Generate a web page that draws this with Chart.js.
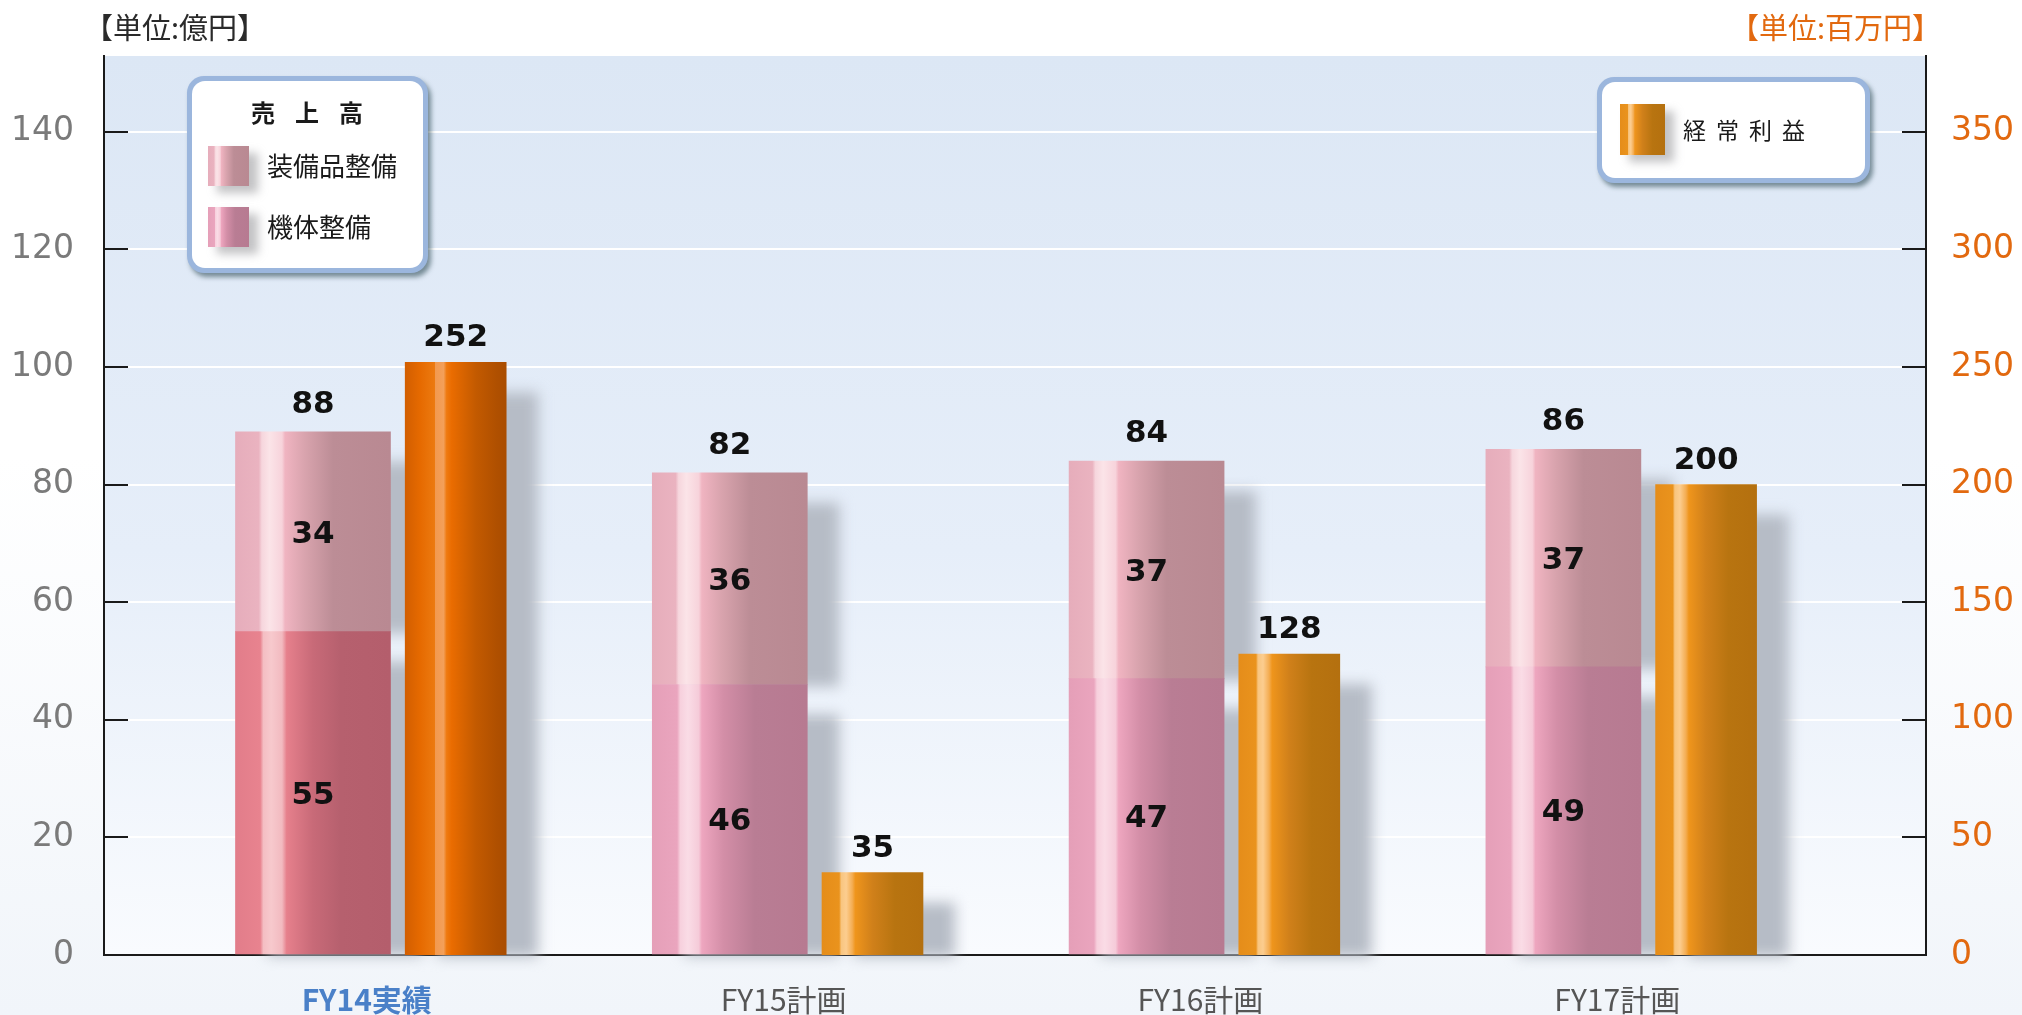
<!DOCTYPE html>
<html>
<head>
<meta charset="utf-8">
<script src="https://cdn.jsdelivr.net/npm/chart.js@4.4.1/dist/chart.umd.min.js"></script>
<style>
  html, body { margin: 0; padding: 0; background: #fff; }
  #wrap { width: 2022px; height: 1015px; position: relative; }
</style>
</head>
<body>
<div id="wrap"><canvas id="chart"></canvas></div>
<script>
// 売上高 (億円) / 経常利益 (百万円)
var categories    = ['FY14実績', 'FY15計画', 'FY16計画', 'FY17計画'];
var kitaiSeibi    = [55, 46, 47, 49];     // 機体整備
var soubihinSeibi = [34, 36, 37, 37];     // 装備品整備
var salesTotal    = [88, 82, 84, 86];     // 売上高 (label above stack)
var keijoRieki    = [252, 35, 128, 200];  // 経常利益

var CJK = '"Noto Sans CJK JP", sans-serif';
var NUM = '"DejaVu Sans", sans-serif';

/* cylinder-like gradients, stops as fraction of bar width */
var UPPER = [[0,'#e6adbb'],[0.15,'#eab3c0'],[0.17,'#f6d6dd'],[0.22,'#fbe4e8'],[0.30,'#f7d3db'],[0.32,'#f0b4c1'],[0.45,'#d8a3ad'],[0.63,'#bc8d96'],[1,'#b98992']];
var LOWER = [[0,'#e59fb8'],[0.16,'#eaa5be'],[0.18,'#f7d0dd'],[0.23,'#fadce6'],[0.30,'#f5cbd9'],[0.32,'#eea6bf'],[0.46,'#d38ea7'],[0.66,'#b97d94'],[1,'#b77a91']];
var LOWER14 = [[0,'#e27d8a'],[0.16,'#e8838f'],[0.18,'#f4bec3'],[0.23,'#f7c9cd'],[0.30,'#f2bac0'],[0.33,'#e6808c'],[0.50,'#c86a78'],[0.68,'#b6606e'],[1,'#b45e6c']];
var ORANGE = [[0,'#e58d1a'],[0.17,'#ea931d'],[0.19,'#f8c57f'],[0.24,'#fccd8f'],[0.30,'#f4ad52'],[0.33,'#ef951c'],[0.50,'#d0801a'],[0.72,'#b87410'],[1,'#b4700f']];
var ORANGE14 = [[0,'#d25e00'],[0.15,'#e66a00'],[0.29,'#ec7a10'],[0.30,'#f29a50'],[0.38,'#f3a05a'],[0.41,'#ef7a10'],[0.46,'#ea6c00'],[0.70,'#c35a00'],[0.90,'#b05000'],[1,'#aa4d00']];

var GROUP_OFFSET = 0.1712;   // half distance between sales bar and profit bar (x units)
var LABEL_SHIFT = -0.042;
var X_MIN = -0.6726, X_MAX = 3.6988;
var SALES_W = 155, PROFIT_W = 101;

function hGrad(c, left, width, stops) {
  var g = c.createLinearGradient(left, 0, left + width, 0);
  stops.forEach(function (s) { g.addColorStop(s[0], s[1]); });
  return g;
}

function barFill(pick, thickness) {
  return function (ctx) {
    var chart = ctx.chart;
    var xs = chart.scales && chart.scales.x;
    if (!xs || !ctx.parsed || !chart.chartArea) return '#d0a0b0';
    var cx = xs.getPixelForValue(ctx.parsed.x);
    return hGrad(chart.ctx, cx - thickness / 2, thickness, pick(ctx.dataIndex));
  };
}

var backdrop = {
  id: 'backdrop',
  beforeDraw: function (chart) {
    var c = chart.ctx, a = chart.chartArea;
    c.save();
    var g = c.createLinearGradient(0, 0, 0, chart.height);
    g.addColorStop(0, '#ffffff'); g.addColorStop(0.45, '#ffffff'); g.addColorStop(1, '#f1f5fa');
    c.fillStyle = g;
    c.fillRect(0, 0, chart.width, chart.height);
    g = c.createLinearGradient(0, a.top, 0, a.bottom);
    g.addColorStop(0, '#dce7f5'); g.addColorStop(0.55, '#e6eef9'); g.addColorStop(1, '#f9fbfe');
    c.fillStyle = g;
    c.fillRect(a.left, a.top, a.right - a.left, a.bottom - a.top);
    c.restore();
  }
};

var barShadow = {
  id: 'barShadow',
  beforeDatasetsDraw: function (chart) {
    var c = chart.ctx;
    c.save();
    c.filter = 'blur(7px)';
    c.fillStyle = '#b6bcc6';
    c.beginPath();
    chart.data.datasets.forEach(function (ds, di) {
      chart.getDatasetMeta(di).data.forEach(function (bar) {
        var top = Math.min(bar.y, bar.base), bottom = Math.max(bar.y, bar.base);
        c.rect(bar.x - bar.width / 2 + 32, top + 30, bar.width, bottom - top - 28);
      });
    });
    c.fill();
    c.restore();
  }
};

var valueLabels = {
  id: 'valueLabels',
  afterDatasetsDraw: function (chart) {
    var c = chart.ctx;
    var lower = chart.getDatasetMeta(0).data;
    var upper = chart.getDatasetMeta(1).data;
    var profit = chart.getDatasetMeta(2).data;
    c.save();
    c.fillStyle = '#111';
    c.font = 'bold 31px ' + NUM;
    c.textAlign = 'center';
    c.textBaseline = 'alphabetic';
    var half = 11;
    lower.forEach(function (b, i) {
      c.fillText(kitaiSeibi[i], b.x, (b.y + b.base) / 2 + half);
      var u = upper[i];
      c.fillText(soubihinSeibi[i], u.x, (u.y + u.base) / 2 + half);
      c.fillText(salesTotal[i], u.x, u.y - 30 + half);
    });
    profit.forEach(function (b, i) {
      c.fillText(keijoRieki[i], b.x, b.y - 27 + half);
    });
    c.restore();
  }
};

function legendBox(c, x, y, w, h) {
  c.save();
  c.shadowColor = 'rgba(30,60,70,0.55)';
  c.shadowOffsetX = 3; c.shadowOffsetY = 4; c.shadowBlur = 5;
  c.beginPath(); c.roundRect(x, y, w, h, 17);
  c.fillStyle = '#9bb6dd'; c.fill();
  c.restore();
  c.beginPath(); c.roundRect(x + 5, y + 5, w - 10, h - 10, 13);
  c.fillStyle = '#ffffff'; c.fill();
}

function swatch(c, x, y, w, h, stops) {
  c.save();
  c.filter = 'blur(5px)';
  c.fillStyle = 'rgba(120,120,125,0.45)';
  c.fillRect(x + 9, y + 7, w, h);
  c.restore();
  c.fillStyle = hGrad(c, x, w, stops);
  c.fillRect(x, y, w, h);
}

function spaced(c, text, x, y, pitch) {
  for (var i = 0; i < text.length; i++) c.fillText(text[i], x + i * pitch, y);
}

var overlay = {
  id: 'overlay',
  afterDraw: function (chart) {
    var c = chart.ctx, a = chart.chartArea;
    var ys = chart.scales.y, yr = chart.scales.y1;
    c.save();
    // inward tick marks
    c.strokeStyle = '#1a1a1a'; c.lineWidth = 2;
    ys.ticks.forEach(function (t) {
      if (t.value === 0) return;
      var y = Math.round(ys.getPixelForValue(t.value));
      c.beginPath(); c.moveTo(a.left, y); c.lineTo(a.left + 24, y); c.stroke();
    });
    yr.ticks.forEach(function (t) {
      if (t.value === 0) return;
      var y = Math.round(yr.getPixelForValue(t.value));
      c.beginPath(); c.moveTo(a.right - 24, y); c.lineTo(a.right, y); c.stroke();
    });

    // unit captions
    c.textBaseline = 'middle';
    c.textAlign = 'left';
    c.font = '29px ' + CJK;
    var t1 = '【単位:億円】';
    var m1 = c.measureText(t1);
    c.fillStyle = '#2a2a2a';
    c.fillText(t1, 103 + m1.actualBoundingBoxLeft, 28);
    var t2 = '【単位:百万円】';
    var m2 = c.measureText(t2);
    c.fillStyle = '#e2690f';
    c.fillText(t2, 1922 - m2.actualBoundingBoxRight, 28);

    // sales legend
    legendBox(c, 187, 76, 241, 197);
    c.fillStyle = '#1a1a1a';
    c.font = 'bold 24px ' + CJK;
    spaced(c, '売上高', 251, 113, 44);
    swatch(c, 208, 146, 41, 40, UPPER);
    swatch(c, 208, 207, 41, 40, LOWER);
    c.fillStyle = '#1a1a1a';
    c.font = '26px ' + CJK;
    c.fillText('装備品整備', 267, 166);
    c.fillText('機体整備', 267, 227);

    // profit legend
    legendBox(c, 1597, 77, 273, 106);
    swatch(c, 1620, 104, 45, 51, ORANGE);
    c.fillStyle = '#1a1a1a';
    c.font = '23px ' + CJK;
    spaced(c, '経常利益', 1683, 130, 33);
    c.restore();
  }
};

var xOf = function (off) { return function (v, i) { return { x: i + off, y: v }; }; };

new Chart(document.getElementById('chart'), {
  type: 'bar',
  data: {
    datasets: [
      {
        label: '機体整備',
        data: kitaiSeibi.map(xOf(-GROUP_OFFSET)),
        yAxisID: 'y', stack: 'sales', grouped: false,
        barThickness: SALES_W, borderWidth: 0,
        backgroundColor: barFill(function (i) { return i === 0 ? LOWER14 : LOWER; }, SALES_W)
      },
      {
        label: '装備品整備',
        data: soubihinSeibi.map(xOf(-GROUP_OFFSET)),
        yAxisID: 'y', stack: 'sales', grouped: false,
        barThickness: SALES_W, borderWidth: 0,
        backgroundColor: barFill(function () { return UPPER; }, SALES_W)
      },
      {
        label: '経常利益',
        data: keijoRieki.map(xOf(GROUP_OFFSET)),
        yAxisID: 'y1', stack: 'profit', grouped: false,
        barThickness: PROFIT_W, borderWidth: 0,
        backgroundColor: barFill(function (i) { return i === 0 ? ORANGE14 : ORANGE; }, PROFIT_W)
      }
    ]
  },
  options: {
    responsive: true,
    maintainAspectRatio: false,
    animation: false,
    layout: { padding: { top: 56, left: 0, right: 0, bottom: 0 } },
    plugins: {
      legend: { display: false },
      tooltip: { enabled: false },
      title: { display: false }
    },
    scales: {
      x: {
        type: 'linear',
        offset: false,
        bounds: 'data',
        min: X_MIN, max: X_MAX,
        grid: { display: false, drawTicks: false, offset: false },
        border: { display: true, color: '#1a1a1a', width: 2 },
        afterDataLimits: function (scale) { scale.min = X_MIN; scale.max = X_MAX; },
        afterBuildTicks: function (scale) {
          scale.ticks = categories.map(function (c, i) { return { value: i + LABEL_SHIFT }; });
          scale.min = X_MIN; scale.max = X_MAX;
        },
        afterFit: function (scale) { scale.height = 60; },
        ticks: {
          autoSkip: false, maxRotation: 0, padding: 27,
          callback: function (v, i) { return categories[i]; },
          color: function (ctx) { return ctx.index === 0 ? '#4a80c8' : '#555555'; },
          font: function (ctx) {
            return { family: CJK, size: 30, weight: ctx.index === 0 ? 'bold' : 'normal' };
          }
        }
      },
      y: {
        position: 'left', stacked: true,
        min: 0, max: 152.9,
        afterFit: function (scale) { scale.width = 104; },
        grid: { color: '#ffffff', lineWidth: 2, drawTicks: false },
        border: { display: true, color: '#1a1a1a', width: 2 },
        ticks: {
          stepSize: 20, includeBounds: false, padding: 30,
          color: '#7a7a7a', font: { family: NUM, size: 33 }
        }
      },
      y1: {
        position: 'right', stacked: true,
        min: 0, max: 382.25,
        afterFit: function (scale) { scale.width = 96; },
        grid: { display: false, drawTicks: false },
        border: { display: true, color: '#1a1a1a', width: 2 },
        ticks: {
          stepSize: 50, includeBounds: false, padding: 25,
          color: '#e2690f', font: { family: NUM, size: 33 }
        }
      }
    }
  },
  plugins: [backdrop, barShadow, valueLabels, overlay]
});
</script>
</body>
</html>
